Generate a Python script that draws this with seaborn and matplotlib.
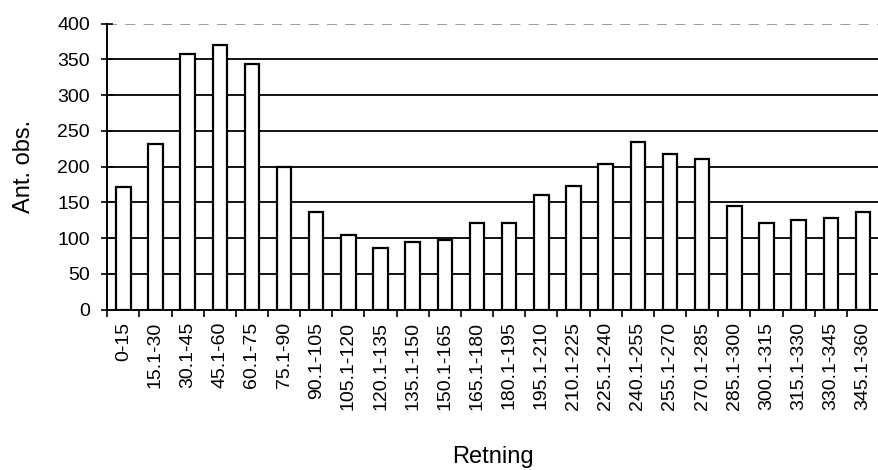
import matplotlib
matplotlib.use("Agg")
import matplotlib.pyplot as plt
import numpy as np
import pandas as pd
import seaborn as sns

# Wind direction sectors and observation counts
sectors = [
    "0-15", "15.1-30", "30.1-45", "45.1-60", "60.1-75", "75.1-90",
    "90.1-105", "105.1-120", "120.1-135", "135.1-150", "150.1-165", "165.1-180",
    "180.1-195", "195.1-210", "210.1-225", "225.1-240", "240.1-255", "255.1-270",
    "270.1-285", "285.1-300", "300.1-315", "315.1-330", "330.1-345", "345.1-360",
]
counts = [
    172, 232, 357, 370, 344, 200,
    136, 104, 86, 95, 98, 121,
    121, 160, 173, 204, 235, 218,
    210, 145, 121, 126, 128, 136,
]
y_ticks = [0, 50, 100, 150, 200, 250, 300, 350, 400]

sns.set_theme(style="white")
plt.rcParams["font.family"] = ["Liberation Sans", "DejaVu Sans"]
plt.rcParams["text.color"] = "black"
plt.rcParams["axes.labelcolor"] = "black"
plt.rcParams["xtick.color"] = "black"
plt.rcParams["ytick.color"] = "black"

df = pd.DataFrame({"Retning": sectors, "Ant. obs.": counts})

fig = plt.figure(figsize=(8.79, 4.70), dpi=100)
ax = fig.add_axes([0.122, 0.341, 0.878, 0.609])

# solid gridlines 50..350, faint dashed line on top
for v in y_ticks[1:-1]:
    ax.axhline(v, color="black", linewidth=1.3, zorder=0)
ax.axhline(y_ticks[-1], color="#8a8a8a", linewidth=1.2, linestyle=(0, (6, 5)), zorder=0)

sns.barplot(
    data=df, x="Retning", y="Ant. obs.", color="white", saturation=1,
    edgecolor="black", linewidth=1.6, width=0.45, ax=ax, zorder=2,
)

n = len(sectors)
ax.set_xlim(-0.5, n - 0.5)
ax.set_ylim(0, 400)
ax.set_yticks(y_ticks)
ax.set_yticklabels([str(v) for v in y_ticks], fontsize=14)
ax.set_xticks(range(n))
ax.set_xticklabels(sectors, rotation=90, fontsize=14)
ax.set_xticks(np.arange(n + 1) - 0.5, minor=True)
ax.tick_params(axis="x", which="major", bottom=True, length=0, pad=8.5)
ax.tick_params(axis="x", which="minor", bottom=True, length=5, width=1.2,
               color="black", direction="out")
ax.tick_params(axis="y", left=True, length=9, width=1.2, color="black",
               direction="inout", pad=8)

for side in ["top", "right"]:
    ax.spines[side].set_visible(False)
for side in ["left", "bottom"]:
    ax.spines[side].set_color("black")
    ax.spines[side].set_linewidth(1.4)

ax.set_xlabel("Retning", fontsize=17, labelpad=26)
ax.set_ylabel("Ant. obs.", fontsize=17, labelpad=16)

fig.savefig("out.png", dpi=100)
